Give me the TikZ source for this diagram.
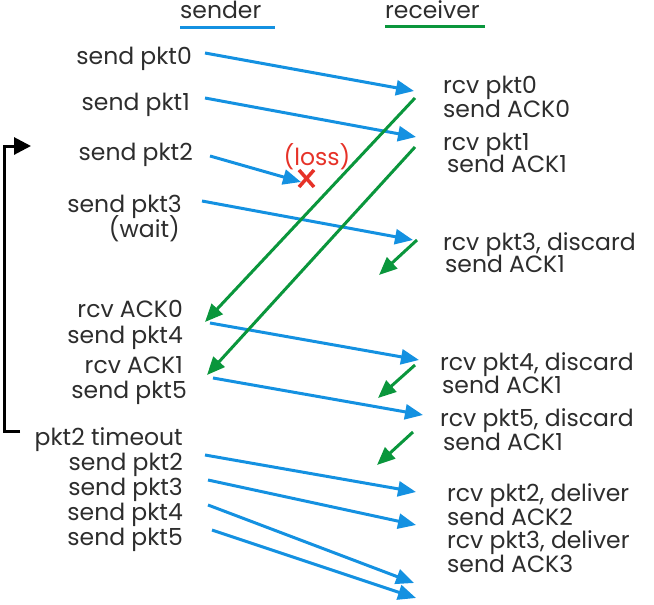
\documentclass[tikz,border=0pt]{standalone}
\usepackage{fontspec}
\setmainfont{Poppins}
\usetikzlibrary{arrows.meta}
\definecolor{pktblue}{RGB}{20,145,225}
\definecolor{ackgreen}{RGB}{10,150,60}
\definecolor{lossred}{RGB}{230,50,40}
\definecolor{txtgray}{RGB}{45,45,45}
\tikzset{
    lbl/.style={inner sep=0pt, text=txtgray, font=\fontsize{23.5}{26}\selectfont},
    sndlbl/.style={lbl, anchor=base east},
    rcvlbl/.style={lbl, anchor=base west},
    pktmsg/.style={pktblue, line width=3pt, -{Triangle[length=18pt,width=15pt]}},
    ackmsg/.style={ackgreen, line width=3pt, -{Triangle[length=18pt,width=15pt]}}
}
\begin{document}
\begin{tikzpicture}[x=1pt, y=-1pt]
    \useasboundingbox (0,0) rectangle (654,605);

    % Headers
    \node[lbl, anchor=base west] (hsnd) at (180,18) {sender};
    \node[lbl, anchor=base west] (hrcv) at (385,18) {receiver};
    \draw[pktblue, line width=3pt] (180,27) -- (275,27);
    \draw[ackgreen, line width=3pt] (385,26) -- (485,26);

    % Sender side
    \foreach \name/\x/\y/\txt in {s0/192/64/send pkt0, s1/190/110/send pkt1, s2/193/160/send pkt2,
        s3/182/212/send pkt3, sw/180/237/(wait), a0/183/317/rcv ACK0, s4/183/343/send pkt4,
        a1/183/373/rcv ACK1, s5/187/398/send pkt5, to/183/445/pkt2 timeout, r2/183/470/send pkt2,
        r3/183/495/send pkt3, r4/183/520/send pkt4, r5/183/545/send pkt5} {
        \node[sndlbl] (\name) at (\x,\y) {\txt};
    }

    % Receiver side
    \foreach \name/\x/\y/\txt in {q0/443/93/rcv pkt0, k0/443/117/send ACK0, q1/443/150/rcv pkt1,
        k1/447/172/send ACK1, q3/443/250/{rcv pkt3, discard}, k3/445/272/send ACK1,
        q4/440/370/{rcv pkt4, discard}, k4/442/393/send ACK1, q5/440/426/{rcv pkt5, discard},
        k5/443/450/send ACK1, d2/447/501/{rcv pkt2, deliver}, e2/447/525/send ACK2,
        d3/447/548/{rcv pkt3, deliver}, e3/447/572/send ACK3} {
        \node[rcvlbl] (\name) at (\x,\y) {\txt};
    }

    % Message end points
    \coordinate (p0a) at (205,53);  \coordinate (p0b) at (414,91);
    \coordinate (p1a) at (205,98);  \coordinate (p1b) at (416,137);
    \coordinate (p2a) at (210,156); \coordinate (p2b) at (301,182);
    \coordinate (p3a) at (202,201); \coordinate (p3b) at (413,240);
    \coordinate (p4a) at (210,323); \coordinate (p4b) at (419,360);
    \coordinate (p5a) at (213,378); \coordinate (p5b) at (423,415);
    \coordinate (t2a) at (205,455); \coordinate (t2b) at (416,492);
    \coordinate (t3a) at (208,480); \coordinate (t3b) at (416,525);
    \coordinate (t4a) at (208,505); \coordinate (t4b) at (414,583);
    \coordinate (t5a) at (212,530); \coordinate (t5b) at (416,598);

    \coordinate (c0a) at (415,98);  \coordinate (c0b) at (205,322);
    \coordinate (c1a) at (415,147); \coordinate (c1b) at (207,375);
    \coordinate (c3a) at (417,240); \coordinate (c3b) at (379,275);
    \coordinate (c4a) at (415,365); \coordinate (c4b) at (378,398);
    \coordinate (c5a) at (413,432); \coordinate (c5b) at (377,465);

    % Data packets
    \foreach \m in {p0,p1,p2,p3,p4,p5,t2,t3,t4,t5} {
        \draw[pktmsg] (\m a) -- (\m b);
    }

    % ACKs
    \foreach \m in {c0,c1,c3,c4,c5} {
        \draw[ackmsg] (\m a) -- (\m b);
    }

    % Loss
    \node[inner sep=0pt, text=lossred, font=\fontsize{23.5}{26}\selectfont, anchor=base] (loss) at (317,165) {(loss)};
    \draw[lossred, line width=3.5pt] (299,170) -- (314,187) (314,170) -- (299,187);

    % Timeout bracket
    \coordinate (tb) at (20,431);
    \coordinate (tt) at (31,146);
    \draw[black, line width=3pt, -{Triangle[length=17pt,width=17pt]}] (tb) -| (4,146) -- (tt);
\end{tikzpicture}
\end{document}
